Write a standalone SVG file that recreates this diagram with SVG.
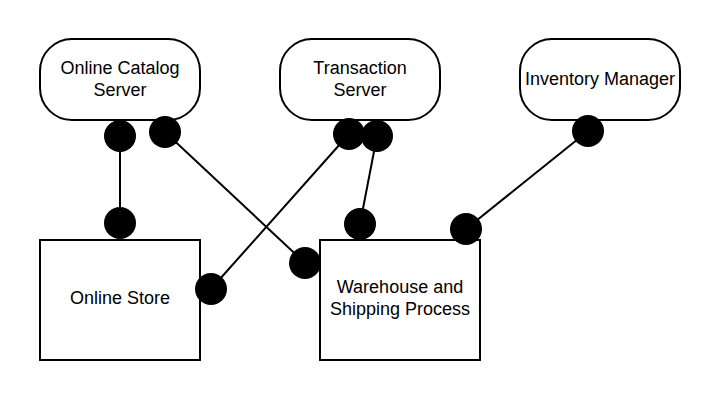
<svg xmlns="http://www.w3.org/2000/svg" width="720" height="400" viewBox="0 0 720 400">
<defs>
<style>
.node{fill:#fff;stroke:#000;stroke-width:2}
.lbl{font-family:"Liberation Sans",Arial,sans-serif;font-size:18px;fill:#000;text-anchor:middle}
.conn{stroke:#000;stroke-width:2;fill:none;marker-start:url(#dot);marker-end:url(#dot)}
</style>
<marker id="dot" markerUnits="userSpaceOnUse" markerWidth="34" markerHeight="34" refX="17" refY="17" viewBox="0 0 34 34" overflow="visible">
<circle cx="17" cy="17" r="16" fill="#000"/>
</marker>
</defs>
<rect width="720" height="400" fill="#fff"/>
<g id="catalog">
<rect class="node" x="40" y="39" width="160" height="81" rx="32" ry="32"/>
<text class="lbl" x="120" y="74">Online Catalog</text>
<text class="lbl" x="120" y="96">Server</text>
</g>
<g id="transaction">
<rect class="node" x="280" y="39" width="160" height="81" rx="32" ry="32"/>
<text class="lbl" x="360" y="74">Transaction</text>
<text class="lbl" x="360" y="96">Server</text>
</g>
<g id="inventory">
<rect class="node" x="520" y="39" width="160" height="81" rx="32" ry="32"/>
<text class="lbl" x="600" y="85">Inventory Manager</text>
</g>
<g id="store">
<rect class="node" x="40" y="240" width="160" height="120"/>
<text class="lbl" x="120" y="304">Online Store</text>
</g>
<g id="warehouse">
<rect class="node" x="320" y="240" width="160" height="120"/>
<text class="lbl" x="400" y="293">Warehouse and</text>
<text class="lbl" x="400" y="315">Shipping Process</text>
</g>
<g id="connectors">
<line class="conn" x1="120" y1="136" x2="120" y2="223"/>
<line class="conn" x1="165" y1="132" x2="305" y2="263"/>
<line class="conn" x1="349" y1="134" x2="211" y2="289"/>
<line class="conn" x1="377" y1="136" x2="360" y2="224"/>
<line class="conn" x1="588" y1="131" x2="466" y2="229"/>
</g>
</svg>
